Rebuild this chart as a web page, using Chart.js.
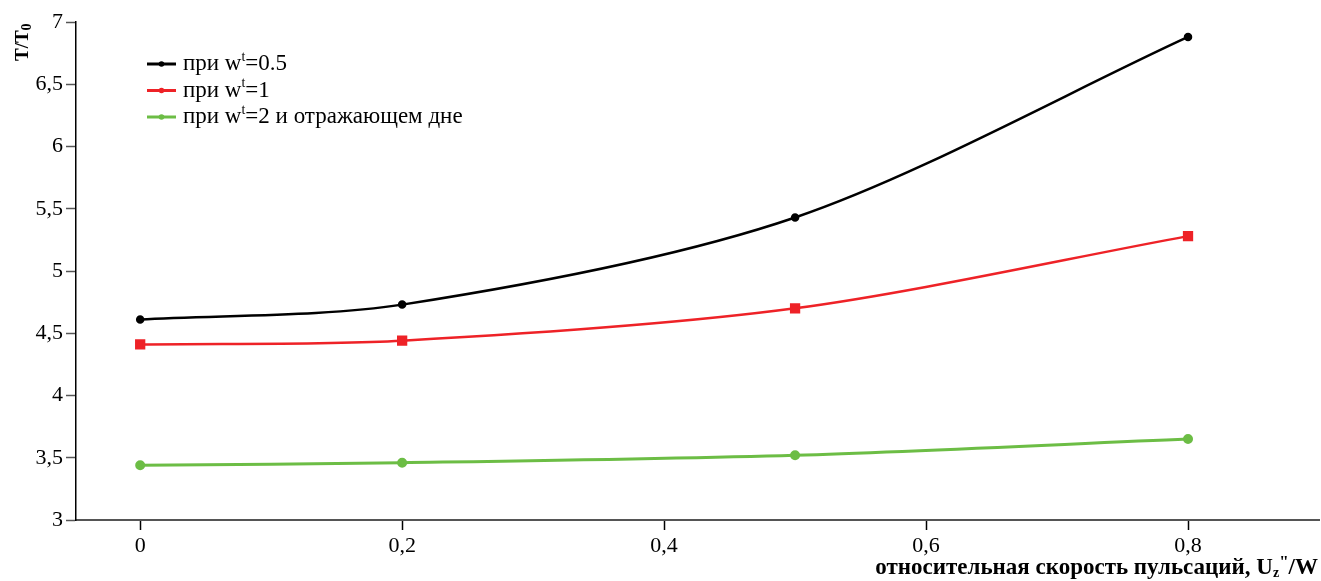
<!DOCTYPE html>
<html>
<head>
<meta charset="utf-8">
<script src="https://cdn.jsdelivr.net/npm/chart.js@4.4.1/dist/chart.umd.min.js"></script>
<style>
  html, body { margin: 0; padding: 0; background: #fff; }
  #wrap { width: 1321px; height: 581px; }
</style>
</head>
<body>
<div id="wrap"><canvas id="myChart" width="1321" height="581"></canvas></div>
<script>
// data
const xValues = [0, 0.2, 0.5, 0.8];
const seriesHalf = [4.61, 4.73, 5.43, 6.88];   // при w^t=0.5
const seriesOne = [4.41, 4.44, 4.70, 5.28];    // при w^t=1
const seriesTwo = [3.44, 3.46, 3.52, 3.65];    // при w^t=2 и отражающем дне
const xTicks = [0, 0.2, 0.4, 0.6, 0.8];
const yTicks = [3, 3.5, 4, 4.5, 5, 5.5, 6, 6.5, 7];
const legendNames = ['=0.5', '=1', '=2 и отражающем дне'];

const SERIF = '"Liberation Serif", "Times New Roman", serif';

let toPoints = (ys) => xValues.map((x, i) => ({ x: x, y: ys[i] }));
let comma = (v) => String(v).replace('.', ',');

// legend, axis titles with sub/superscripts drawn by hand
const decorPlugin = {
    id: 'decor',
    afterDraw(chart) {
        const ctx = chart.ctx;
        const ds = chart.data.datasets;
        ctx.save();
        ctx.textBaseline = 'middle';
        ds.forEach((d, i) => {
            let y = 64 + i * 26.5;
            ctx.strokeStyle = d.borderColor;
            ctx.lineWidth = 3;
            ctx.beginPath();
            ctx.moveTo(147, y);
            ctx.lineTo(176, y);
            ctx.stroke();
            ctx.fillStyle = d.borderColor;
            ctx.beginPath();
            ctx.arc(161.5, y, 2.8, 0, Math.PI * 2);
            ctx.fill();
            let x = 183;
            ctx.fillStyle = '#000';
            ctx.font = '23px ' + SERIF;
            ctx.fillText('при w', x, y);
            x += ctx.measureText('при w').width;
            ctx.font = '14px ' + SERIF;
            ctx.fillText('t', x, y - 7);
            x += ctx.measureText('t').width;
            ctx.font = '23px ' + SERIF;
            ctx.fillText(legendNames[i], x, y);
        });

        // y title T/T0, rotated
        ctx.save();
        ctx.translate(23, 61);
        ctx.rotate(-Math.PI / 2);
        ctx.textBaseline = 'middle';
        ctx.fillStyle = '#000';
        ctx.font = 'bold 19px ' + SERIF;
        ctx.fillText('T/T', 0, 0);
        let w = ctx.measureText('T/T').width;
        ctx.font = 'bold 14px ' + SERIF;
        ctx.fillText('0', w, 4);
        ctx.restore();

        // x title, right aligned
        let parts = [
            ['относительная скорость пульсаций, U', 'bold 23px ', 0],
            ['z', 'bold 14px ', 5],
            ['"', 'bold 17px ', -5],
            ['/W', 'bold 23px ', 0]
        ];
        let total = 0;
        parts.forEach(p => { ctx.font = p[1] + SERIF; total += ctx.measureText(p[0]).width; });
        let x = 1318 - total;
        let yb = 568;
        parts.forEach(p => {
            ctx.font = p[1] + SERIF;
            ctx.fillText(p[0], x, yb + p[2]);
            x += ctx.measureText(p[0]).width;
        });
        ctx.restore();
    }
};

let ctx = document.getElementById('myChart').getContext('2d');
let chart = new Chart(ctx, {
    type: 'line',
    data: {
        datasets: [{
            label: 'при w^t=0.5',
            data: toPoints(seriesHalf),
            borderColor: '#000000',
            backgroundColor: '#000000',
            borderWidth: 2.5,
            pointRadius: 3,
            pointStyle: 'circle',
            tension: 0.3
        }, {
            label: 'при w^t=1',
            data: toPoints(seriesOne),
            borderColor: '#ee2227',
            backgroundColor: '#ee2227',
            borderWidth: 2.5,
            pointRadius: 5.5,
            pointStyle: 'rect',
            tension: 0.3
        }, {
            label: 'при w^t=2 и отражающем дне',
            data: toPoints(seriesTwo),
            borderColor: '#6cbd45',
            backgroundColor: '#6cbd45',
            borderWidth: 3,
            pointRadius: 3.5,
            pointStyle: 'circle',
            tension: 0.3
        }]
    },
    options: {
        responsive: false,
        animation: false,
        layout: { autoPadding: false, padding: { top: 22, right: 2, left: 0, bottom: 0 } },
        plugins: {
            legend: { display: false },
            tooltip: { enabled: false }
        },
        scales: {
            x: {
                type: 'linear',
                min: -0.049,
                max: 0.9,
                afterBuildTicks: (s) => { s.ticks = xTicks.map(v => ({ value: v })); },
                afterFit: (s) => { s.height = 61; s.paddingLeft = 0; s.paddingRight = 0; },
                border: { display: true, color: '#555', width: 2 },
                grid: { drawOnChartArea: false, tickLength: 10, color: '#000', tickWidth: 1.5 },
                ticks: {
                    padding: 3,
                    color: '#000',
                    font: { family: SERIF, size: 22 },
                    callback: (v) => comma(v)
                }
            },
            y: {
                min: 3,
                max: 7,
                afterBuildTicks: (s) => { s.ticks = yTicks.map(v => ({ value: v })); },
                afterFit: (s) => { s.width = 76; },
                border: { display: true, color: '#000', width: 1.5 },
                grid: { drawOnChartArea: false, tickLength: 10, color: '#555', tickWidth: 1.5 },
                ticks: {
                    padding: 3,
                    color: '#000',
                    font: { family: SERIF, size: 22 },
                    callback: (v) => comma(v)
                }
            }
        }
    },
    plugins: [decorPlugin]
});
</script>
</body>
</html>
